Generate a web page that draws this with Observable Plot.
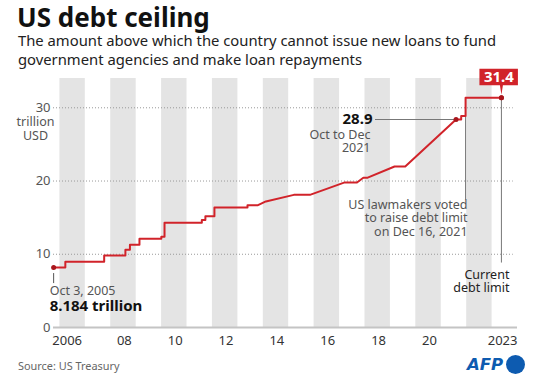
<!DOCTYPE html>
<html><head><meta charset="utf-8">
<script src="https://cdn.jsdelivr.net/npm/d3@7"></script>
<script src="https://cdn.jsdelivr.net/npm/@observablehq/plot@0.6"></script>
<style>
body{margin:0;background:#fff;}
#wrap{position:relative;width:538px;height:377px;overflow:hidden;background:#fff;font-family:"Noto Sans",sans-serif;}
#chart{position:absolute;left:0;top:0;}
#title{position:absolute;left:17px;top:2px;font-size:26px;line-height:30px;font-weight:700;color:#111;white-space:nowrap;}
#sub{position:absolute;left:18px;top:31px;font-size:14.8px;line-height:18.5px;color:#222;white-space:nowrap;}
#source{position:absolute;left:18px;top:358.5px;font-size:10.9px;line-height:14px;color:#666;white-space:nowrap;}
#logo{position:absolute;left:464px;top:352px;}
</style></head>
<body>
<div id="wrap">
  <div id="chart"></div>
  <div id="title">US debt ceiling</div>
  <div id="sub">The amount above which the country cannot issue new loans to fund<br>government agencies and make loan repayments</div>
  <div id="source">Source: US Treasury</div>
  <svg id="logo" width="64" height="24" viewBox="0 0 64 24">
    <text x="3" y="18" font-family="DejaVu Sans" font-weight="700" font-style="italic" font-size="16.5" fill="#0d5bb0">AFP</text>
    <circle cx="51.5" cy="12.5" r="9.5" fill="#0d5bb0"/>
  </svg>
</div>
<script>
// Vertices of the debt-limit line (date, trillion USD)
const dates = [
  "2005-10-03","2006-03-20","2006-03-20","2007-09-29","2007-09-29","2008-07-30","2008-07-30",
  "2008-10-03","2008-10-03","2009-02-17","2009-02-17","2009-12-28","2009-12-28","2010-02-12",
  "2010-02-12","2011-08-02","2011-08-02","2011-09-22","2011-09-22","2012-01-30","2012-01-30",
  "2013-05-19","2013-05-19","2013-10-17","2014-02-07","2015-03-16","2015-11-02","2017-03-16",
  "2017-09-08","2017-12-08","2018-02-09","2019-03-02","2019-08-02","2021-08-01","2021-10-14",
  "2021-10-14","2021-12-16","2021-12-16","2023-05-15"
];
const limits = [
  8.184, 8.184, 8.965, 8.965, 9.815, 9.815, 10.615,
  10.615, 11.315, 11.315, 12.104, 12.104, 12.394, 12.394,
  14.294, 14.294, 14.694, 14.694, 15.194, 15.194, 16.394,
  16.394, 16.699, 16.699, 17.212, 18.113, 18.113, 19.809,
  19.809, 20.456, 20.456, 21.988, 21.988, 28.401, 28.401,
  28.881, 28.881, 31.381, 31.381
];
// Highlighted points: start, Oct–Dec 2021, current
const markerDates = ["2005-10-03", "2021-08-01", "2023-05-15"];
const markerValues = [8.184, 28.401, 31.381];
// Shaded years
const bandYears = [2006, 2008, 2010, 2012, 2014, 2016, 2018, 2020, 2022];
// Axis ticks
const yTicks = [0, 10, 20, 30];
const gridValues = [10, 20, 30];
const xTickDates = ["2006-04-15","2008-07-15","2010-07-15","2012-07-15","2014-07-15","2016-07-15","2018-07-15","2020-07-15","2023-06-01"];
const xTickLabels = ["2006","08","10","12","14","16","18","20","2023"];
// Labels
const yUnitLabel = "trillion\nUSD";
const startLabels = ["Oct 3, 2005", "8.184 trillion"];
const midLabels = ["28.9", "Oct to Dec\n2021"];
const voteLabel = "US lawmakers voted\nto raise debt limit\non Dec 16, 2021";
const voteDate = "2021-12-16";
const currentLabels = ["31.4", "Current\ndebt limit"];

const D = s => new Date(s);
const rows = dates.map((d, i) => ({date: D(d), limit: limits[i]}));
const markers = markerDates.map((d, i) => ({date: D(d), limit: markerValues[i]}));
const start = markers[0], mid = markers[1], current = markers[2];
const xStart = D("2005-10-01"), xEnd = D("2024-01-01");
const red = "#d1232a";
const gray = "#555";
const fs = 12.5;
const lh = 1.1;

const badge = {draw(ctx){
  ctx.moveTo(-22,-29); ctx.lineTo(16.5,-29); ctx.lineTo(16.5,-12.5);
  ctx.lineTo(1.5,-12.5); ctx.lineTo(0,-3); ctx.lineTo(-1.5,-12.5);
  ctx.lineTo(-22,-12.5); ctx.closePath();
}};
const startTick = {draw(ctx){ ctx.moveTo(0,5.5); ctx.lineTo(0,15.5); }};

const midLeaderStart = D("2018-06-01");

const chart = Plot.plot({
  width: 538, height: 377,
  marginTop: 78, marginBottom: 50, marginLeft: 53, marginRight: 21,
  style: {fontFamily: "Noto Sans", fontSize: "13px", background: "transparent"},
  x: {type: "utc", domain: [xStart, xEnd], axis: null},
  y: {domain: [0, 34], axis: null},
  marks: [
    Plot.rect(bandYears, {x1: y => D(`${y}-01-01`), x2: y => D(`${y+1}-01-01`), y1: () => 0, y2: () => 34, fill: "#e4e4e4"}),
    Plot.ruleY(gridValues, {x1: () => xStart, x2: () => D("2023-11-01"), stroke: "#999", strokeDasharray: "1,2"}),
    Plot.ruleY([0], {stroke: "#c4c4c4", strokeWidth: 2}),
    Plot.text(yTicks, {x: () => xStart, y: d => d, text: d => String(d), textAnchor: "end", dx: -3, fill: gray, fontSize: 13}),
    Plot.text([yUnitLabel], {x: () => xStart, y: () => 30, text: d => d, textAnchor: "middle", dx: -18, dy: 20.5, lineHeight: lh, fill: gray, fontSize: fs}),
    Plot.text(xTickDates, {x: d => D(d), y: () => 0, text: (d, i) => xTickLabels[i], dy: 13.5, fill: "#333", fontSize: 13}),
    // leaders
    Plot.ruleY([mid], {x1: () => midLeaderStart, x2: "date", y: "limit", stroke: "#777", strokeWidth: 1}),
    Plot.ruleX([voteDate], {x: d => D(d), y1: () => 31.381, y2: () => 17.4, stroke: "#777", strokeWidth: 1}),
    Plot.ruleX([current], {x: "date", y1: "limit", y2: () => 8.8, stroke: "#777", strokeWidth: 1}),
    Plot.dot([start], {x: "date", y: "limit", symbol: startTick, stroke: "#555", fill: "none", strokeWidth: 1}),
    // line
    Plot.line(rows, {x: "date", y: "limit", stroke: red, strokeWidth: 2}),
    Plot.dot(markers, {x: "date", y: "limit", r: 2.5, fill: "#a8161c"}),
    // start labels
    Plot.text([start], {x: "date", y: "limit", text: () => startLabels[0], textAnchor: "start", dx: -4, dy: 23.5, fill: gray, fontSize: fs}),
    Plot.text([start], {x: "date", y: "limit", text: () => startLabels[1], textAnchor: "start", dx: -4, dy: 38.5, fill: "#111", fontSize: 15, fontWeight: "bold"}),
    // mid labels
    Plot.text([mid], {x: () => midLeaderStart, y: "limit", text: () => midLabels[0], textAnchor: "end", dx: -3, fill: "#111", fontSize: 15, fontWeight: "bold"}),
    Plot.text([mid], {x: () => midLeaderStart, y: "limit", text: () => midLabels[1], textAnchor: "end", dx: -5, dy: 21.5, lineHeight: lh, fill: gray, fontSize: fs}),
    // vote label
    Plot.text([voteDate], {x: d => D(d), y: () => 17.4, text: () => voteLabel, textAnchor: "end", dx: 2, dy: 18, lineHeight: lh, fill: gray, fontSize: fs}),
    // current labels
    Plot.dot([current], {x: "date", y: "limit", symbol: badge, fill: red, stroke: "none"}),
    Plot.text([current], {x: "date", y: "limit", text: () => currentLabels[0], dx: -2.5, dy: -20.5, fill: "#fff", fontSize: 15, fontWeight: "bold"}),
    Plot.text([current], {x: "date", y: () => 8.8, text: () => currentLabels[1], textAnchor: "end", dx: 8, dy: 18, lineHeight: lh, fill: "#222", fontSize: fs}),
    Plot.dot([current], {x: "date", y: "limit", r: 2.5, fill: "#a8161c"})
  ]
});
document.getElementById("chart").appendChild(chart);
</script>
</body></html>
